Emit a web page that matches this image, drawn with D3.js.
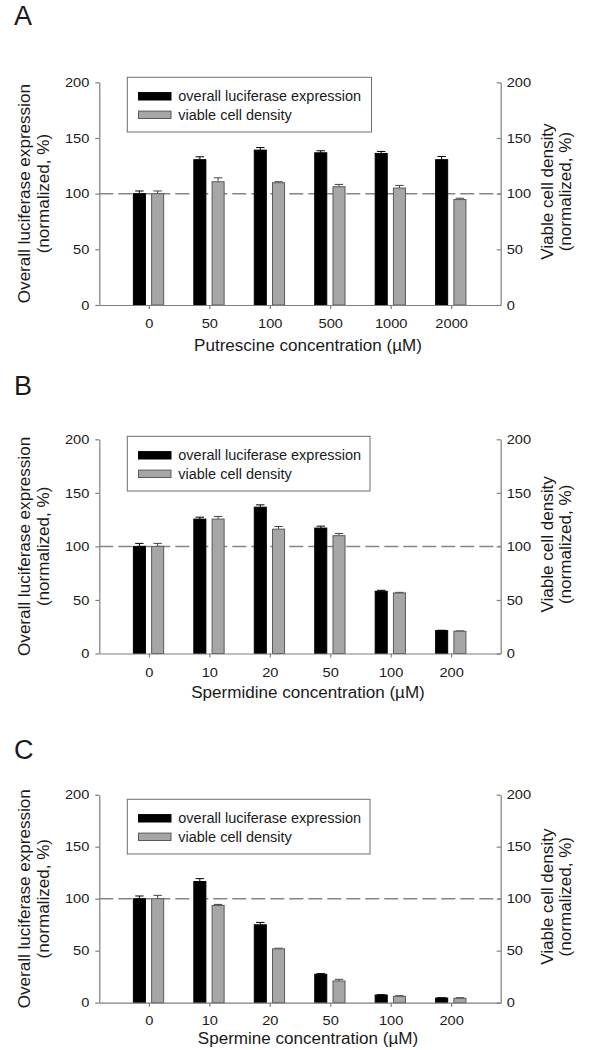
<!DOCTYPE html>
<html><head><meta charset="utf-8">
<script src="https://cdn.jsdelivr.net/npm/d3@7"></script>
<style>
html,body{margin:0;padding:0;background:#fff;}
svg text{font-family:"Liberation Sans",Arial,sans-serif;fill:#1a1a1a;}
</style></head>
<body><svg id="chart" width="597" height="1050"></svg>
<script>
// ---- data ----
const panelLetters = ["A", "B", "C"];
const xTitles = ["Putrescine concentration (\u00b5M)", "Spermidine concentration (\u00b5M)", "Spermine concentration (\u00b5M)"];
const concA = ["0", "50", "100", "500", "1000", "2000"];
const concB = ["0", "10", "20", "50", "100", "200"];
const concC = ["0", "10", "20", "50", "100", "200"];
const luxA = [100, 130.5, 139.1, 136.7, 136.1, 130.5];
const luxErrA = [2.4, 2.6, 2.3, 1.8, 1.8, 2.9];
const vcdA = [100, 110.7, 109.8, 106.2, 105.0, 94.7];
const vcdErrA = [2.4, 3.5, 0.9, 2.1, 2.4, 1.2];
const luxB = [100, 125.5, 136.6, 117.1, 58.1, 21.4];
const luxErrB = [2.8, 1.8, 2.2, 1.8, 0.9, 0.3];
const vcdB = [100, 125.5, 116.1, 110.0, 56.5, 20.8];
const vcdErrB = [2.8, 2.5, 2.5, 2.1, 0.6, 0.3];
const luxC = [100, 116.5, 74.9, 27.3, 7.4, 4.5];
const luxErrC = [2.6, 2.8, 2.3, 0.7, 0.3, 0.3];
const vcdC = [100, 93.5, 51.8, 20.9, 6.1, 4.2];
const vcdErrC = [3.2, 1.0, 0.6, 1.6, 0.6, 0.6];
const yTicks = [0, 50, 100, 150, 200];
const seriesNames = ["overall luciferase expression", "viable cell density"];
const leftTitle = ["Overall luciferase expression", "(normalized, %)"];
const rightTitle = ["Viable cell density", "(normalized, %)"];
const refLine = 100;

// ---- layout ----
const layout = [
  {top: 82.3, bottom: 305, legTop: 77.3, legRight: 371.5, letterY: 25, tickPad: 10, titleOff: 46},
  {top: 439.3, bottom: 653.5, legTop: 436.3, legRight: 370, letterY: 395, tickPad: 10, titleOff: 44},
  {top: 794.7, bottom: 1002.7, legTop: 799.3, legRight: 370, letterY: 759, tickPad: 9, titleOff: 41}
];
const panels = [
  {cats: concA, lux: luxA, luxErr: luxErrA, vcd: vcdA, vcdErr: vcdErrA},
  {cats: concB, lux: luxB, luxErr: luxErrB, vcd: vcdB, vcdErr: vcdErrB},
  {cats: concC, lux: luxC, luxErr: luxErrC, vcd: vcdC, vcdErr: vcdErrC}
];
const xL = 99.3, xR = 500.7;
const axisColor = "#7f7f7f";
const svg = d3.select("#chart");

function stretch(sel, f) {
  sel.each(function() {
    const len = this.getComputedTextLength();
    d3.select(this).attr("textLength", len * f).attr("lengthAdjust", "spacingAndGlyphs");
  });
}

panels.forEach((p, i) => {
  const L = layout[i];
  const g = svg.append("g");
  const x = d3.scalePoint().domain(p.cats).range([xL, xR]).padding(0.82);
  const inner = d3.scaleBand().domain(["lux", "vcd"]).range([-15.5, 14.8]).paddingInner(0.34);
  const y = d3.scaleLinear().domain([0, 200]).range([L.bottom, L.top]);

  // reference dashed line
  g.append("line").attr("x1", xL).attr("x2", xR).attr("y1", y(refLine)).attr("y2", y(refLine))
    .attr("stroke", "#858585").attr("stroke-width", 1.5).attr("stroke-dasharray", "14,5");

  const rows = p.cats.map((c, k) => [
    {cat: c, key: "lux", v: p.lux[k], e: p.luxErr[k]},
    {cat: c, key: "vcd", v: p.vcd[k], e: p.vcdErr[k]}
  ]).flat();

  // error bars (upper half)
  const eb = g.append("g").selectAll("g").data(rows).join("g");
  eb.append("line")
    .attr("x1", d => x(d.cat) + inner(d.key) + inner.bandwidth() / 2)
    .attr("x2", d => x(d.cat) + inner(d.key) + inner.bandwidth() / 2)
    .attr("y1", d => y(d.v)).attr("y2", d => y(d.v + d.e))
    .attr("stroke", d => d.key === "lux" ? "#000" : "#444").attr("stroke-width", 1);
  eb.append("line")
    .attr("x1", d => x(d.cat) + inner(d.key) + 1.8)
    .attr("x2", d => x(d.cat) + inner(d.key) + inner.bandwidth() - 1.8)
    .attr("y1", d => y(d.v + d.e)).attr("y2", d => y(d.v + d.e))
    .attr("stroke", d => d.key === "lux" ? "#000" : "#444").attr("stroke-width", 1);

  // bars
  g.append("g").selectAll("rect").data(rows).join("rect")
    .attr("x", d => x(d.cat) + inner(d.key))
    .attr("width", inner.bandwidth())
    .attr("y", d => y(d.v))
    .attr("height", d => y(0) - y(d.v))
    .attr("fill", d => d.key === "lux" ? "#000" : "#a6a6a6")
    .attr("stroke", d => d.key === "lux" ? "#000" : "#5a5a5a")
    .attr("stroke-width", 1);

  // axes
  const ax = g.append("g").attr("transform", `translate(${xL},0)`)
    .call(d3.axisLeft(y).tickValues(yTicks).tickSize(4).tickSizeOuter(0).tickPadding(6));
  const axR = g.append("g").attr("transform", `translate(${xR},0)`)
    .call(d3.axisRight(y).tickValues(yTicks).tickSize(-4).tickSizeOuter(0).tickPadding(6));
  const axB = g.append("g").attr("transform", `translate(0,${L.bottom})`)
    .call(d3.axisBottom(x).tickSize(4).tickSizeOuter(0).tickPadding(L.tickPad));
  [ax, axR, axB].forEach(a => {
    a.selectAll("path,line").attr("stroke", axisColor).attr("stroke-width", 1.2);
    a.selectAll("text").attr("font-size", 13.3).attr("fill", "#1a1a1a")
      .style("font-family", '"Liberation Sans",Arial,sans-serif');
    stretch(a.selectAll("text"), 1.1);
  });

  // axis titles
  const mid = (L.top + L.bottom) / 2;
  const lt = g.append("g");
  lt.selectAll("text").data(leftTitle).join("text")
    .attr("transform", (d, k) => `translate(${k === 0 ? 30 : 49},${mid}) rotate(-90)`)
    .attr("text-anchor", "middle").attr("font-size", 15.8).text(d => d);
  stretch(lt.selectAll("text"), 1.08);
  const rt = g.append("g");
  rt.selectAll("text").data(rightTitle).join("text")
    .attr("transform", (d, k) => `translate(${k === 0 ? 553 : 571},${mid - 2}) rotate(-90)`)
    .attr("text-anchor", "middle").attr("font-size", 15.8).text(d => d);
  stretch(rt.selectAll("text"), 1.08);
  const xt = g.append("text").attr("x", 308).attr("y", L.bottom + L.titleOff)
    .attr("text-anchor", "middle").attr("font-size", 15.8).text(xTitles[i]);
  stretch(xt, 1.08);

  // panel letter
  g.append("text").attr("x", 14).attr("y", L.letterY).attr("font-size", 27).text(panelLetters[i]);

  // legend
  const lg = g.append("g");
  lg.append("rect").attr("x", 127.3).attr("y", L.legTop).attr("width", L.legRight - 127.3).attr("height", 54.7)
    .attr("fill", "#fff").attr("stroke", "#6e6e6e").attr("stroke-width", 1);
  seriesNames.forEach((nm, k) => {
    const cy = L.legTop + 19 + k * 18.5;
    lg.append("rect").attr("x", 138.5).attr("y", cy - 3.7).attr("width", 32.5).attr("height", 7.4)
      .attr("fill", k === 0 ? "#000" : "#a6a6a6").attr("stroke", k === 0 ? "#000" : "#5a5a5a");
    const t = lg.append("text").attr("x", 178.3).attr("y", cy + 5).attr("font-size", 13.8).text(nm);
    stretch(t, 1.05);
  });
});
</script></body></html>
